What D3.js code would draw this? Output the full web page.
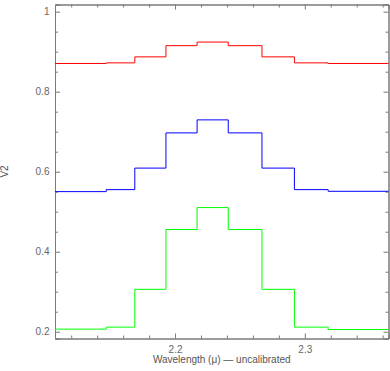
<!DOCTYPE html>
<html>
<head>
<meta charset="utf-8">
<script src="https://d3js.org/d3.v7.min.js"></script>
<style>
  body { margin: 0; background: #fff; }
  text { font-family: "Liberation Sans", Arial, sans-serif; }
  .axis path, .axis line { stroke: #7a7a7a; }
  .axis text { fill: #666; font-size: 10px; }
</style>
</head>
<body>
<svg id="chart" width="390" height="371"></svg>
<script>
// bin edges (wavelength, micron) - first and last are the plot limits
var edges = [2.1075, 2.147, 2.169, 2.193, 2.217, 2.241, 2.267, 2.292, 2.318, 2.3645];

// V2 per bin
var redV2 = [0.8705, 0.872, 0.887, 0.915, 0.924, 0.915, 0.887, 0.872, 0.8705];
var blueV2 = [0.5502, 0.5552, 0.609, 0.697, 0.7295, 0.697, 0.609, 0.5552, 0.551];
var greenV2 = [0.2065, 0.2115, 0.306, 0.4555, 0.5103, 0.4555, 0.306, 0.2115, 0.2055];

var xMajor = [2.2, 2.3];
var yMajor = [0.2, 0.4, 0.6, 0.8, 1];

var svg = d3.select("#chart"),
    margin = {
        top: 4.5,
        right: 1.5,
        bottom: 32.5,
        left: 55
    },
    width = +svg.attr("width") - margin.left - margin.right,
    height = +svg.attr("height") - margin.top - margin.bottom,
    g = svg.append("g").attr("transform", "translate(" + margin.left + "," + margin.top + ")");

var x = d3.scaleLinear()
    .domain([edges[0], edges[edges.length - 1]])
    .range([0, width]);

var y = d3.scaleLinear()
    .domain([0.1831, 1.0179])
    .range([height, 0]);

var xMinor = d3.range(2.12, 2.365, 0.02).filter(function (d) {
    return Math.abs(d - 2.2) > 0.001 && Math.abs(d - 2.3) > 0.001;
});
var yMinor = d3.range(0.25, 1.0, 0.05).filter(function (d) {
    return Math.abs(d * 5 - Math.round(d * 5)) > 0.001;
});

// minor ticks (all four sides, pointing inward)
g.append("g").attr("class", "axis")
    .attr("transform", "translate(0," + height + ")")
    .call(d3.axisBottom(x).tickValues(xMinor).tickSize(-3).tickFormat(""));
g.append("g").attr("class", "axis")
    .call(d3.axisTop(x).tickValues(xMinor).tickSize(-3).tickFormat(""));
g.append("g").attr("class", "axis")
    .call(d3.axisLeft(y).tickValues(yMinor).tickSize(-3).tickFormat(""));
g.append("g").attr("class", "axis")
    .attr("transform", "translate(" + width + ",0)")
    .call(d3.axisRight(y).tickValues(yMinor).tickSize(-3).tickFormat(""));

// major ticks with labels
g.append("g").attr("class", "axis")
    .attr("transform", "translate(0," + height + ")")
    .call(d3.axisBottom(x).tickValues(xMajor).tickSize(-5).tickPadding(7).tickFormat(d3.format(".1f")));
g.append("g").attr("class", "axis")
    .call(d3.axisTop(x).tickValues(xMajor).tickSize(-5).tickFormat(""));
g.append("g").attr("class", "axis")
    .call(d3.axisLeft(y).tickValues(yMajor).tickSize(-5).tickPadding(5.5).tickFormat(function (d) {
        return d === 1 ? "1" : d3.format(".1f")(d);
    }));
g.append("g").attr("class", "axis")
    .attr("transform", "translate(" + width + ",0)")
    .call(d3.axisRight(y).tickValues(yMajor).tickSize(-5).tickFormat(""));

var series = [
    { name: "red", color: "#ff0000", values: redV2 },
    { name: "blue", color: "#0000ff", values: blueV2 },
    { name: "green", color: "#00ff00", values: greenV2 }
];

var line = d3.line()
    .x(function (d) { return x(d[0]); })
    .y(function (d) { return y(d[1]); })
    .curve(d3.curveStepAfter);

g.selectAll(".hist")
    .data(series)
    .enter().append("path")
    .attr("class", "hist")
    .attr("fill", "none")
    .attr("stroke", function (d) { return d.color; })
    .attr("stroke-width", 1)
    .attr("d", function (d) {
        var pts = d.values.map(function (v, i) { return [edges[i], v]; });
        pts.push([edges[edges.length - 1], d.values[d.values.length - 1]]);
        return line(pts);
    });

svg.append("text")
    .attr("x", margin.left + width / 2)
    .attr("y", 362.5)
    .attr("text-anchor", "middle")
    .attr("font-size", 10)
    .attr("fill", "#555")
    .text("Wavelength (\u03bc) \u2014 uncalibrated");

svg.append("text")
    .attr("transform", "translate(8," + (margin.top + height / 2) + ") rotate(-90)")
    .attr("text-anchor", "middle")
    .attr("font-size", 10)
    .attr("fill", "#555")
    .text("V2");
</script>
</body>
</html>
